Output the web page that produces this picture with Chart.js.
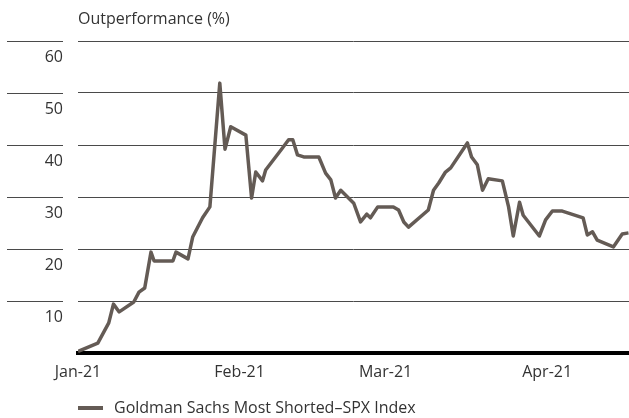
<!DOCTYPE html>
<html>
<head>
<meta charset="utf-8">
<script src="https://cdn.jsdelivr.net/npm/chart.js@4/dist/chart.umd.min.js"></script>
<style>
  html, body { margin: 0; padding: 0; background: #fff; }
  #wrap { width: 629px; height: 418px; }
</style>
</head>
<body>
<div id="wrap"><canvas id="line-chart"></canvas></div>
<script>
// days since 1 Jan 2021
const dayOffsets = [
  0, 3.8, 5.9, 6.8, 7.9, 10.7, 11.7, 12.8, 14, 14.6,
  18.2, 18.8, 21.1, 22, 23.9, 25.3, 27.2, 28.2, 29.3, 32.2,
  33.3, 34.1, 35.4, 36, 38.9, 40.4, 41.2, 42.1, 43.3, 46.2,
  47.5, 48.5, 49.4, 50.4, 52.9, 54.2, 55.4, 56.1, 57.5, 60.5,
  61.5, 62.5, 63.4, 67.2, 68.2, 69.2, 70.5, 71.5, 74.7, 75.5,
  76.6, 77.6, 78.7, 81.4, 82.6, 83.5, 84.7, 85.4, 88.5, 89.7,
  91, 92.9, 96.9, 97.7, 98.7, 99.6, 102.7, 104.4, 105.6
];
const outperformance = [
  0.3, 1.9, 5.8, 9.4, 7.9, 9.8, 11.7, 12.5, 19.4, 17.7,
  17.7, 19.4, 18.1, 22.3, 26, 28.1, 51.9, 39.2, 43.5, 41.9,
  29.8, 34.8, 33.1, 35.2, 39, 41, 41, 38.1, 37.7, 37.7,
  34.6, 33.3, 29.8, 31.3, 28.8, 25.2, 26.7, 26, 28.1, 28.1,
  27.5, 25.2, 24.2, 27.5, 31.3, 32.7, 34.8, 35.6, 40.4, 37.7,
  36.2, 31.3, 33.5, 33.1, 28.1, 22.5, 29, 26.5, 22.5, 25.6,
  27.3, 27.3, 26, 22.7, 23.3, 21.7, 20.4, 22.9, 23.1
];
const monthTicks = [0, 31, 59, 90];
const monthLabels = ["Jan-21", "Feb-21", "Mar-21", "Apr-21"];
const yTicks = [0, 10, 20, 30, 40, 50, 60];

const seriesLabel = "Goldman Sachs Most Shorted\u2013SPX Index";
const axisTitle = "Outperformance (%)";
const lineColor = "#645b55";
const gridColor = "#4a4a4a";
const textColor = "#333333";
const fontFamily = "'Open Sans', sans-serif";

const decor = {
  id: "decor",
  afterDraw(chart) {
    const ctx = chart.ctx;
    const area = chart.chartArea;
    const y = chart.scales.y;
    ctx.save();
    // short grid stubs left of the labels
    ctx.strokeStyle = gridColor;
    ctx.lineWidth = 1;
    yTicks.forEach((v) => {
      if (v === 0) return;
      const py = Math.round(y.getPixelForValue(v)) + 0.5;
      ctx.beginPath();
      ctx.moveTo(7, py);
      ctx.lineTo(area.left - 15, py);
      ctx.stroke();
    });
    ctx.fillStyle = textColor;
    ctx.font = "16px " + fontFamily;
    ctx.textBaseline = "middle";
    ctx.textAlign = "left";
    ctx.fillText(axisTitle, area.left, 19);
    // legend
    ctx.strokeStyle = lineColor;
    ctx.lineWidth = 4;
    ctx.beginPath();
    ctx.moveTo(area.left, 408);
    ctx.lineTo(area.left + 25, 408);
    ctx.stroke();
    ctx.fillText(seriesLabel, area.left + 36, 408);
    ctx.restore();
  },
};

new Chart(document.getElementById("line-chart"), {
  type: "line",
  data: {
    datasets: [
      {
        label: seriesLabel,
        data: dayOffsets.map((d, i) => ({ x: d, y: outperformance[i] })),
        borderColor: lineColor,
        backgroundColor: lineColor,
        borderWidth: 3.5,
        borderJoinStyle: "round",
        pointRadius: 0,
        tension: 0,
      },
    ],
  },
  options: {
    responsive: true,
    maintainAspectRatio: false,
    animation: false,
    layout: { padding: { top: 41, right: 0, bottom: 35, left: 0 } },
    plugins: {
      legend: { display: false },
      tooltip: { enabled: false },
    },
    scales: {
      x: {
        type: "linear",
        min: 0,
        max: 105.7,
        afterFit: (s) => { s.height = 30; },
        afterBuildTicks: (s) => { s.ticks = monthTicks.map((v) => ({ value: v })); },
        grid: { display: false, drawTicks: false },
        border: { display: true, color: "#000", width: 4 },
        ticks: {
          padding: 10,
          maxRotation: 0,
          autoSkip: false,
          color: textColor,
          font: { family: fontFamily, size: 16 },
          callback: (v) => monthLabels[monthTicks.indexOf(v)] || "",
        },
      },
      y: {
        min: 0,
        max: 60,
        afterFit: (s) => { s.width = 78; },
        afterBuildTicks: (s) => { s.ticks = yTicks.map((v) => ({ value: v })); },
        grid: {
          drawTicks: false,
          color: (c) => (c.tick && c.tick.value === 0 ? "rgba(0,0,0,0)" : gridColor),
          lineWidth: 1,
        },
        border: { display: false },
        ticks: {
          padding: 15,
          labelOffset: 16,
          color: textColor,
          font: { family: fontFamily, size: 16 },
          callback: (v) => (v === 0 ? "" : v),
        },
      },
    },
  },
  plugins: [decor],
});
</script>
</body>
</html>
